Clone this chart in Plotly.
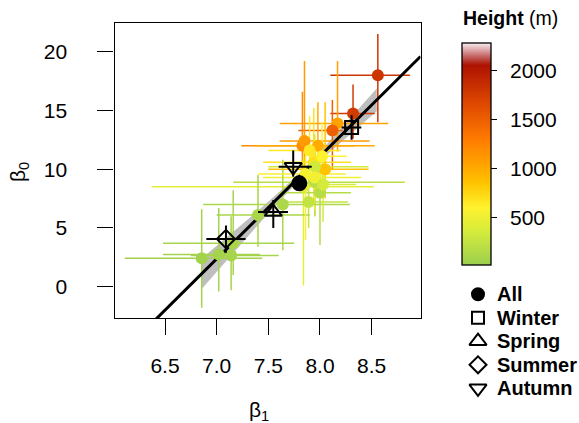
import plotly.graph_objects as go
from plotly.colors import sample_colorscale

# ---- station estimates: slope beta1, intercept beta0 (with bounds) and station height ----
beta1 = [8.56, 8.32, 8.17, 8.12, 7.83, 7.98, 7.85, 7.94, 8.05, 7.95, 8.02, 7.84, 7.95,
         7.95, 7.89, 8.00, 7.64, 7.40, 7.16, 7.14, 7.02, 6.855, 7.90, 7.86, 8.03]
beta1_lo = [8.10, 8.10, 7.61, 7.79, 7.24, 7.37, 7.61, 7.45, 7.50, 7.50, 7.90, 6.37, 7.16,
            7.45, 7.68, 7.60, 6.87, 7.00, 6.48, 6.75, 6.48, 6.11, 7.50, 7.40, 7.70]
beta1_hi = [8.87, 8.53, 8.66, 8.22, 8.34, 8.53, 8.48, 8.30, 8.47, 8.47, 8.26, 8.52, 8.82,
            8.40, 8.27, 8.30, 8.29, 7.90, 7.75, 7.60, 7.42, 7.44, 8.20, 8.25, 8.35]
beta0 = [18.0, 14.75, 13.9, 13.3, 12.0, 12.0, 12.4, 10.6, 10.0, 10.2, 11.1, 8.5, 8.9,
         9.3, 7.2, 8.0, 7.0, 6.1, 3.7, 2.65, 2.75, 2.42, 11.6, 9.6, 8.7]
beta0_lo = [14.0, 12.6, 11.5, 10.0, 9.0, 8.8, 9.5, 7.0, 7.5, 6.0, 8.0, 0.1, 6.0,
            6.5, 5.0, 3.55, 3.1, 3.4, 1.0, -0.3, -0.4, -1.8, 8.5, 4.0, 5.5]
beta0_hi = [21.5, 17.2, 19.2, 15.9, 16.6, 15.7, 19.2, 15.2, 15.7, 13.0, 14.0, 11.0, 12.0,
            12.5, 9.5, 10.5, 10.8, 9.5, 8.2, 6.0, 6.7, 6.6, 14.5, 13.0, 11.5]
height_m = [1800, 1760, 1050, 1500, 1200, 1000, 1100, 700, 850, 330, 600, 450, 200,
            520, 250, 180, 120, 100, 90, 80, 70, 60, 650, 560, 350]

# ---- pooled and seasonal estimates ----
season_names = ["All", "Winter", "Spring", "Summer", "Autumn"]
season_symbols = ["circle", "square-open", "triangle-up-open", "diamond-open", "triangle-down-open"]
season_beta1 = [7.80, 8.306, 7.548, 7.09, 7.741]
season_beta1_lo = [7.76, 8.21, 7.40, 6.90, 7.60]
season_beta1_hi = [7.84, 8.40, 7.69, 7.28, 7.92]
season_beta0 = [8.80, 13.55, 6.35, 4.06, 10.2]
season_beta0_lo = [8.2, 12.5, 5.0, 2.9, 9.36]
season_beta0_hi = [9.5, 14.6, 7.38, 5.2, 11.6]

# ---- linear fit beta0 = a + b * beta1 and its confidence band ----
fit_intercept = -58.74
fit_slope = 8.73
band_x = [6.855, 7.0, 7.2, 7.4, 7.6, 7.8, 8.0, 8.2, 8.4, 8.55]
band_half = [1.30, 1.10, 0.85, 0.60, 0.40, 0.30, 0.38, 0.58, 0.80, 0.97]

# ---- axes ----
x_range = [6.011, 8.973]
y_range = [-2.689, 22.443]
x_ticks = [6.5, 7.0, 7.5, 8.0, 8.5]
y_ticks = [0, 5, 10, 15, 20]
height_ticks = [500, 1000, 1500, 2000]
height_min, height_max = 15, 2285

height_scale = [
    [0.000, "rgb(155,207,79)"],
    [0.148, "rgb(212,235,60)"],
    [0.258, "rgb(255,242,46)"],
    [0.368, "rgb(255,196,0)"],
    [0.456, "rgb(255,162,0)"],
    [0.566, "rgb(255,123,0)"],
    [0.720, "rgb(224,74,0)"],
    [0.874, "rgb(181,26,0)"],
    [0.900, "rgb(174,18,0)"],
    [0.940, "rgb(196,100,100)"],
    [1.000, "rgb(248,238,240)"],
]

W, H = 579, 423
FONT = "Liberation Sans, Arial, Helvetica, sans-serif"

# colour bar geometry (pixels)
CB_LEFT, CB_TOP, CB_THICK, CB_LEN = 462.3, 43.0, 28.7, 221.7

fig = go.Figure()

# confidence band
fit_band = [fit_intercept + fit_slope * xv for xv in band_x]
fig.add_trace(go.Scatter(
    x=band_x + band_x[::-1],
    y=[f + h for f, h in zip(fit_band, band_half)] + [f - h for f, h in zip(fit_band, band_half)][::-1],
    fill="toself", fillcolor="#BEBEBE", line=dict(width=0), mode="lines",
    hoverinfo="skip", showlegend=False,
))

# station error bars, coloured by height
norm = [(h - height_min) / (height_max - height_min) for h in height_m]
point_colors = sample_colorscale(height_scale, norm)
for i in range(len(beta1)):
    fig.add_trace(go.Scatter(
        x=[beta1_lo[i], beta1_hi[i], None, beta1[i], beta1[i]],
        y=[beta0[i], beta0[i], None, beta0_lo[i], beta0_hi[i]],
        mode="lines", line=dict(color=point_colors[i], width=1.5),
        hoverinfo="skip", showlegend=False,
    ))

# fitted line across the whole axis
fig.add_trace(go.Scatter(
    x=x_range, y=[fit_intercept + fit_slope * xv for xv in x_range],
    mode="lines", line=dict(color="black", width=3), hoverinfo="skip", showlegend=False,
))

# station points with the height colour bar
fig.add_trace(go.Scatter(
    x=beta1, y=beta0, mode="markers", showlegend=False,
    marker=dict(
        size=12, color=height_m, colorscale=height_scale, cmin=height_min, cmax=height_max,
        line=dict(width=0), opacity=1,
        showscale=True,
        colorbar=dict(
            x=CB_LEFT / W, xanchor="left", xref="paper", xpad=0,
            y=1 - CB_TOP / H, yanchor="top", yref="paper", ypad=0,
            thickness=CB_THICK, thicknessmode="pixels",
            len=CB_LEN, lenmode="pixels",
            outlinewidth=1.3, outlinecolor="black",
            tickvals=height_ticks, ticks="outside", ticklen=6, tickwidth=1.3, tickcolor="black",
            showticklabels=False,
        ),
    ),
))

# seasonal error bars and markers
for i, name in enumerate(season_names):
    fig.add_trace(go.Scatter(
        x=[season_beta1_lo[i], season_beta1_hi[i], None, season_beta1[i], season_beta1[i]],
        y=[season_beta0[i], season_beta0[i], None, season_beta0_lo[i], season_beta0_hi[i]],
        mode="lines", line=dict(color="black", width=2), hoverinfo="skip", showlegend=False,
    ))
marker_sizes = [14, 13, 15, 14, 15]
for i, name in enumerate(season_names):
    fig.add_trace(go.Scatter(
        x=[season_beta1[i]], y=[season_beta0[i]], mode="markers", name=name, showlegend=False,
        marker=dict(symbol=season_symbols[i], size=marker_sizes[i], color="black", opacity=1,
                    line=dict(color="black", width=2)),
    ))

# key for the seasonal symbols (drawn on a pixel-space overlay axis)
legend_rows_y = [294.2, 317.7, 341.2, 364.8, 388.3]
legend_sizes = [12, 12, 15, 13, 15]
fig.add_trace(go.Scatter(
    x=[478] * len(season_names), y=legend_rows_y, xaxis="x2", yaxis="y2",
    mode="markers", hoverinfo="skip", showlegend=False,
    marker=dict(symbol=season_symbols, size=legend_sizes, color="black", opacity=1,
                line=dict(color="black", width=2)),
))
annotations = []
for name, yy in zip(season_names, legend_rows_y):
    annotations.append(dict(
        x=495 / W, y=1 - yy / H, xref="paper", yref="paper", xanchor="left", yanchor="middle",
        text=f"<b>{name}</b>", showarrow=False, font=dict(family=FONT, size=20, color="black"),
    ))

# colour-bar tick labels, placed on the colour bar's own linear scale
for v in height_ticks:
    y_px = CB_TOP + (height_max - v) / (height_max - height_min) * CB_LEN
    annotations.append(dict(
        x=(CB_LEFT + CB_THICK + 17) / W, y=1 - y_px / H, xref="paper", yref="paper",
        xanchor="left", yanchor="middle", text=str(v), showarrow=False,
        font=dict(family=FONT, size=21, color="black"),
    ))

# axis titles and colour-bar title
annotations += [
    dict(x=259 / W, y=1 - 411 / H, xref="paper", yref="paper", xanchor="center", yanchor="middle",
         text="β<sub>1</sub>", showarrow=False, font=dict(family=FONT, size=21, color="black")),
    dict(x=19 / W, y=1 - 172 / H, xref="paper", yref="paper", xanchor="center", yanchor="middle",
         text="β<sub>0</sub>", textangle=-90, showarrow=False,
         font=dict(family=FONT, size=21, color="black")),
    dict(x=461 / W, y=1 - 18 / H, xref="paper", yref="paper", xanchor="left", yanchor="middle",
         text="<b>Height</b> (m)", showarrow=False, font=dict(family=FONT, size=19.5, color="black")),
]

axis_common = dict(
    showgrid=False, zeroline=False, showline=True, linecolor="black", linewidth=1.3,
    mirror=True, ticks="outside", ticklen=16, tickwidth=1.3, tickcolor="black",
    tickfont=dict(family=FONT, size=21, color="black"),
)

fig.update_layout(
    width=W, height=H,
    margin=dict(l=0, r=0, t=0, b=0),
    paper_bgcolor="white", plot_bgcolor="rgba(0,0,0,0)",
    showlegend=False,
    xaxis=dict(domain=[114.5 / W, 420.5 / W], range=x_range, tickvals=x_ticks,
               ticktext=[f"{v:.1f}" for v in x_ticks], ticklabelstandoff=12, **axis_common),
    yaxis=dict(domain=[1 - 318.3 / H, 1 - 23 / H], range=y_range, tickvals=y_ticks,
               ticklabelstandoff=26, **axis_common),
    xaxis2=dict(domain=[0, 1], range=[0, W], visible=False, fixedrange=True),
    yaxis2=dict(domain=[0, 1], range=[H, 0], visible=False, fixedrange=True),
    annotations=annotations,
)

fig.write_html("out.html")
